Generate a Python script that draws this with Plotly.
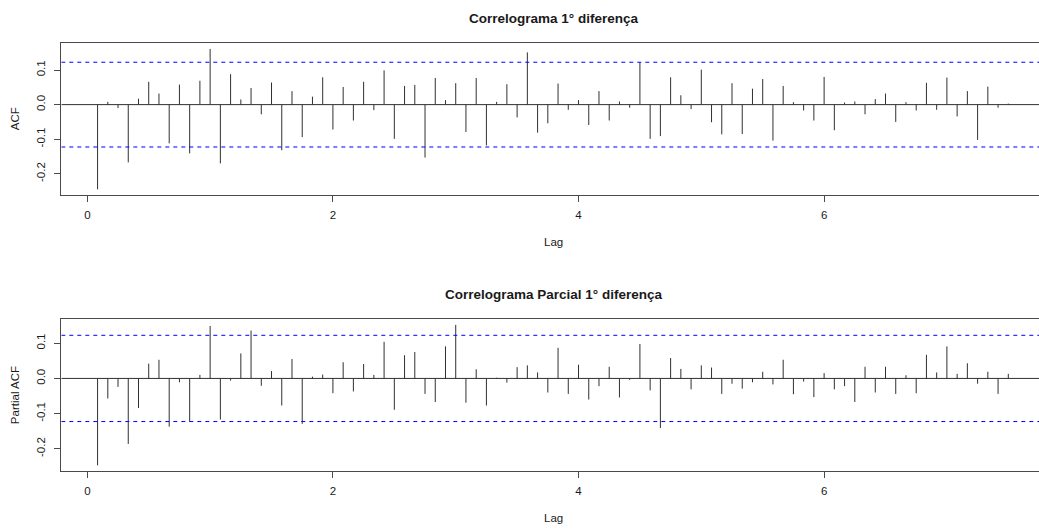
import plotly.graph_objects as go

# ---- data ----
acf_values = [
    -0.245, 0.008, -0.010, -0.167, 0.017, 0.066, 0.032, -0.112, 0.058, -0.141,
    0.069, 0.161, -0.170, 0.088, 0.015, 0.048, -0.028, 0.064, -0.132, 0.039,
    -0.094, 0.023, 0.079, -0.072, 0.051, -0.046, 0.066, -0.016, 0.099, -0.099,
    0.054, 0.057, -0.153, 0.077, 0.013, 0.062, -0.079, 0.077, -0.118, 0.008,
    0.059, -0.037, 0.151, -0.081, -0.054, 0.061, -0.015, 0.013, -0.059, 0.039,
    -0.046, 0.009, -0.009, 0.122, -0.099, -0.091, 0.079, 0.027, -0.013, 0.101,
    -0.051, -0.086, 0.062, -0.085, 0.046, 0.074, -0.104, 0.054, 0.007, -0.017,
    -0.046, 0.080, -0.074, 0.006, 0.009, -0.028, 0.016, 0.032, -0.050, 0.007,
    -0.017, 0.063, -0.015, 0.078, -0.034, 0.039, -0.102, 0.052, -0.009, 0.003,
]
pacf_values = [
    -0.247, -0.057, -0.024, -0.186, -0.084, 0.042, 0.053, -0.137, -0.011, -0.122,
    0.010, 0.149, -0.117, -0.006, 0.071, 0.136, -0.021, 0.021, -0.077, 0.055,
    -0.129, 0.005, 0.011, -0.042, 0.046, -0.037, 0.041, 0.010, 0.104, -0.089,
    0.066, 0.075, -0.044, -0.067, 0.091, 0.152, -0.069, 0.026, -0.077, 0.002,
    -0.012, 0.032, 0.037, 0.017, -0.040, 0.087, -0.044, 0.039, -0.060, -0.022,
    0.033, -0.054, -0.004, 0.098, -0.034, -0.141, 0.058, 0.027, -0.031, 0.037,
    0.031, -0.044, -0.015, -0.029, -0.011, 0.019, -0.017, 0.053, -0.045, -0.009,
    -0.053, 0.015, -0.031, -0.022, -0.067, 0.033, -0.040, 0.033, -0.044, 0.009,
    -0.042, 0.067, 0.017, 0.091, 0.013, 0.043, -0.015, 0.019, -0.044, 0.013,
]
frequency = 12
lags_acf = [(i + 1) / frequency for i in range(len(acf_values))]
lags_pacf = [(i + 1) / frequency for i in range(len(pacf_values))]
conf_bound = 0.1225
x_ticks = [0, 2, 4, 6]
y_ticks = [-0.2, -0.1, 0.0, 0.1]
y_tick_text = ["-0.2", "-0.1", "0.0", "0.1"]

titles = ["Correlograma 1° diferença", "Correlograma Parcial 1° diferença"]
ylabels = ["ACF", "Partial ACF"]
xlabel = "Lag"

# ---- layout geometry ----
W, H = 1039, 530
FONT = "Liberation Sans, Arial, sans-serif"
TXT = "#1a1a1a"
BOX = "#4a4a4a"
left_px = 61.3
x_range = [-0.212, 7.75]
panels = [  # (top px, bottom px)
    (43.3, 195.0),
    (319.3, 471.0),
]


def stems(lags, vals):
    xs, ys = [], []
    for x, v in zip(lags, vals):
        xs += [x, x, None]
        ys += [0, v, None]
    return xs, ys


def yrange(vals):
    lo = min(min(vals), -conf_bound)
    hi = max(max(vals), conf_bound)
    pad = (hi - lo) * 0.04
    return [lo - pad, hi + pad]


fig = go.Figure()
series = [(lags_acf, acf_values), (lags_pacf, pacf_values)]
layout_axes = {}
shapes = []
annotations = []

for i, ((lags, vals), (ptop, pbot)) in enumerate(zip(series, panels)):
    n = "" if i == 0 else str(i + 1)
    xs, ys = stems(lags, vals)
    # zero line
    fig.add_trace(go.Scatter(
        x=x_range, y=[0, 0], mode="lines", xaxis="x" + n, yaxis="y" + n,
        line=dict(color="#303030", width=1), hoverinfo="skip", showlegend=False,
    ))
    fig.add_trace(go.Scatter(
        x=xs, y=ys, mode="lines", xaxis="x" + n, yaxis="y" + n,
        line=dict(color="#303030", width=1), hoverinfo="skip", showlegend=False,
    ))
    # confidence bounds
    for b in (conf_bound, -conf_bound):
        fig.add_trace(go.Scatter(
            x=x_range, y=[b, b], mode="lines", xaxis="x" + n, yaxis="y" + n,
            line=dict(color="#0000ff", width=1, dash="4px,4px"),
            hoverinfo="skip", showlegend=False,
        ))
    dom_y = [1 - pbot / H, 1 - ptop / H]
    layout_axes["xaxis" + n] = dict(
        domain=[left_px / W, 1], range=x_range, anchor="y" + n,
        tickvals=x_ticks, ticktext=[str(t) for t in x_ticks],
        ticks="outside", ticklen=6, tickcolor=BOX, tickwidth=1,
        ticklabelstandoff=3,
        showline=True, linecolor=BOX, linewidth=1, mirror=True,
        showgrid=False, zeroline=False,
        tickfont=dict(family=FONT, size=11.5, color=TXT),
    )
    layout_axes["yaxis" + n] = dict(
        domain=dom_y, range=yrange(vals), anchor="x" + n,
        tickvals=y_ticks, ticktext=y_tick_text, tickangle=-90,
        ticks="outside", ticklen=6, tickcolor=BOX, tickwidth=1,
        ticklabelstandoff=5,
        showline=True, linecolor=BOX, linewidth=1, mirror=False,
        showgrid=False, zeroline=False,
        tickfont=dict(family=FONT, size=11.5, color=TXT),
    )
    # titles & labels
    annotations.append(dict(
        text="<b>" + titles[i] + "</b>", xref="paper", yref="paper",
        x=553 / W, y=1 - (ptop - 24.5) / H, xanchor="center", yanchor="middle",
        showarrow=False, font=dict(family=FONT, size=13.5, color=TXT),
    ))
    annotations.append(dict(
        text=xlabel, xref="paper", yref="paper",
        x=553 / W, y=1 - (pbot + 46.5) / H, xanchor="center", yanchor="middle",
        showarrow=False, font=dict(family=FONT, size=11.5, color=TXT),
    ))
    annotations.append(dict(
        text=ylabels[i], xref="paper", yref="paper", textangle=-90,
        x=15 / W, y=1 - ((ptop + pbot) / 2) / H, xanchor="center", yanchor="middle",
        showarrow=False, font=dict(family=FONT, size=11.5, color=TXT),
    ))

fig.update_layout(
    width=W, height=H,
    margin=dict(l=0, r=0, t=0, b=0),
    paper_bgcolor="white", plot_bgcolor="white",
    annotations=annotations,
    **layout_axes,
)

fig.write_html("out.html")
